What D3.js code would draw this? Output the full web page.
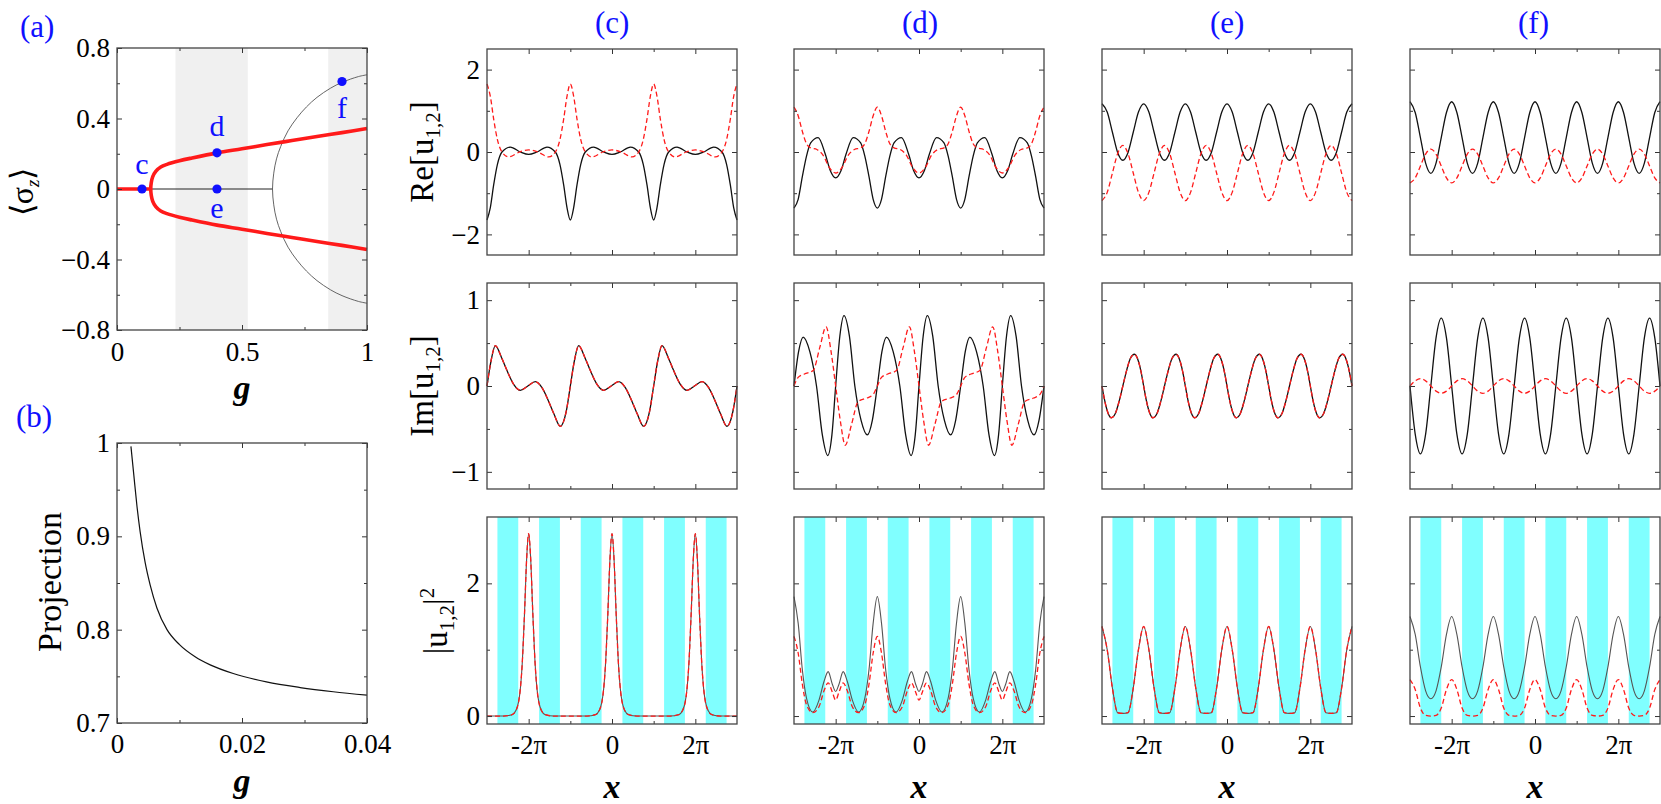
<!DOCTYPE html>
<html>
<head>
<meta charset="utf-8">
<script src="https://cdn.jsdelivr.net/npm/d3@7"></script>
<style>
  body { margin: 0; background: #fff; }
  svg { display: block; }
  svg text { font-family: "Liberation Serif", "Times New Roman", serif; }
</style>
</head>
<body>
<svg id="fig"></svg>
<script>
// ---------- panel (a): <sigma_z> vs g ----------
const bandsA = [[0.234, 0.523], [0.845, 1.0]];
const sigmaTrivial = [[0, 0], [0.622, 0]];
const sigmaLow = [[0, 0], [0.135, 0]];
const sigmaBranch = [[1, -0.343], [0.9, -0.32], [0.8, -0.298], [0.7, -0.275], [0.6, -0.252], [0.5, -0.228],
  [0.4, -0.205], [0.3, -0.176], [0.25, -0.16], [0.2, -0.14], [0.175, -0.125], [0.155, -0.1], [0.143, -0.07],
  [0.137, -0.035], [0.135, 0], [0.137, 0.035], [0.143, 0.07], [0.155, 0.1], [0.175, 0.125], [0.2, 0.14],
  [0.25, 0.16], [0.3, 0.176], [0.4, 0.205], [0.5, 0.228], [0.6, 0.252], [0.7, 0.275], [0.8, 0.298],
  [0.9, 0.32], [1, 0.343]];
const sigmaOuter = [[1, -0.648], [0.966, -0.638], [0.9, -0.605], [0.854, -0.572], [0.8, -0.52], [0.758, -0.466],
  [0.72, -0.404], [0.684, -0.33], [0.655, -0.242], [0.638, -0.171], [0.627, -0.09], [0.622, 0],
  [0.627, 0.09], [0.638, 0.171], [0.655, 0.242], [0.684, 0.33], [0.72, 0.404], [0.758, 0.466],
  [0.8, 0.52], [0.854, 0.572], [0.9, 0.605], [0.966, 0.638], [1, 0.648]];
const markerNames = ['c', 'd', 'e', 'f'];
const markerG = [0.1, 0.4, 0.4, 0.9];
const markerS = [0, 0.205, 0, 0.61];

// ---------- panel (b): projection vs g ----------
const projG = [0.00223, 0.0027, 0.0032, 0.0037, 0.0045, 0.0053, 0.0064, 0.008, 0.01, 0.0125,
  0.015, 0.0186, 0.0239, 0.0293, 0.0346, 0.04];
const projVal = [0.9964, 0.965, 0.932, 0.905, 0.872, 0.848, 0.823, 0.8, 0.784, 0.771,
  0.762, 0.753, 0.744, 0.738, 0.7335, 0.7298];

// ---------- panels (c)-(f): x in units of pi ----------
const xTickVals = [-2, 0, 2];
const xTickLabels = ['-2\u03c0', '0', '2\u03c0'];
const latticeBands = [[-2.75, -2.25], [-1.75, -1.25], [-0.75, -0.25], [0.25, 0.75], [1.25, 1.75], [2.25, 2.75]];
const GRID = [-3, -2.875, -2.75, -2.625, -2.5, -2.375, -2.25, -2.125, -2, -1.875, -1.75, -1.625, -1.5, -1.375, -1.25, -1.125,
  -1, -0.875, -0.75, -0.625, -0.5, -0.375, -0.25, -0.125, 0, 0.125, 0.25, 0.375, 0.5, 0.625, 0.75, 0.875,
  1, 1.125, 1.25, 1.375, 1.5, 1.625, 1.75, 1.875, 2, 2.125, 2.25, 2.375, 2.5, 2.625, 2.75, 2.875, 3];

// (c)
const cReBlack = [[-3,-1.65],[-2.92,-1.35],[-2.84,-0.8],[-2.75,-0.3],[-2.64,0],[-2.44,0.12],[-2.2,0],[-2,-0.06],[-1.8,0],[-1.56,0.12],[-1.36,0],[-1.25,-0.3],[-1.16,-0.8],[-1.08,-1.35],
  [-1,-1.65],[-0.92,-1.35],[-0.84,-0.8],[-0.75,-0.3],[-0.64,0],[-0.44,0.12],[-0.2,0],[0,-0.06],[0.2,0],[0.44,0.12],[0.64,0],[0.75,-0.3],[0.84,-0.8],[0.92,-1.35],
  [1,-1.65],[1.08,-1.35],[1.16,-0.8],[1.25,-0.3],[1.36,0],[1.56,0.12],[1.8,0],[2,-0.06],[2.2,0],[2.44,0.12],[2.64,0],[2.75,-0.3],[2.84,-0.8],[2.92,-1.35],[3,-1.65]];
const cReRed = [[-3,1.65],[-2.92,1.35],[-2.84,0.8],[-2.75,0.3],[-2.64,0],[-2.48,-0.12],[-2.22,0],[-2,0.05],[-1.78,0],[-1.52,-0.12],[-1.36,0],[-1.25,0.3],[-1.16,0.8],[-1.08,1.35],
  [-1,1.65],[-0.92,1.35],[-0.84,0.8],[-0.75,0.3],[-0.64,0],[-0.48,-0.12],[-0.22,0],[0,0.05],[0.22,0],[0.48,-0.12],[0.64,0],[0.75,0.3],[0.84,0.8],[0.92,1.35],
  [1,1.65],[1.08,1.35],[1.16,0.8],[1.25,0.3],[1.36,0],[1.52,-0.12],[1.78,0],[2,0.05],[2.22,0],[2.48,-0.12],[2.64,0],[2.75,0.3],[2.84,0.8],[2.92,1.35],[3,1.65]];
const cIm = [[-3,0],[-2.9,0.3],[-2.8,0.47],[-2.65,0.33],[-2.52,0.18],[-2.36,0.02],[-2.2,-0.05],[-2.02,0],[-1.84,0.05],[-1.68,-0.02],[-1.52,-0.18],[-1.39,-0.33],[-1.24,-0.47],[-1.1,-0.3],
  [-1,0],[-0.9,0.3],[-0.8,0.47],[-0.65,0.33],[-0.52,0.18],[-0.36,0.02],[-0.2,-0.05],[-0.02,0],[0.16,0.05],[0.32,-0.02],[0.48,-0.18],[0.61,-0.33],[0.76,-0.47],[0.9,-0.3],
  [1,0],[1.1,0.3],[1.2,0.47],[1.35,0.33],[1.48,0.18],[1.64,0.02],[1.8,-0.05],[1.98,0],[2.16,0.05],[2.32,-0.02],[2.48,-0.18],[2.61,-0.33],[2.76,-0.47],[2.9,-0.3],[3,0]];
const cAbs = [[-3,0],[-2.6,0],[-2.4,0.02],[-2.3,0.09],[-2.2,0.41],[-2.15,0.84],[-2.1,1.54],[-2.05,2.35],[-2,2.75],[-1.95,2.35],[-1.9,1.54],[-1.85,0.84],[-1.8,0.41],[-1.7,0.09],[-1.6,0.02],[-1.4,0],
  [-0.6,0],[-0.4,0.02],[-0.3,0.09],[-0.2,0.41],[-0.15,0.84],[-0.1,1.54],[-0.05,2.35],[0,2.75],[0.05,2.35],[0.1,1.54],[0.15,0.84],[0.2,0.41],[0.3,0.09],[0.4,0.02],[0.6,0],
  [1.4,0],[1.6,0.02],[1.7,0.09],[1.8,0.41],[1.85,0.84],[1.9,1.54],[1.95,2.35],[2,2.75],[2.05,2.35],[2.1,1.54],[2.15,0.84],[2.2,0.41],[2.3,0.09],[2.4,0.02],[2.6,0],[3,0]];

// (d)
const dReBlack = [[-3,-1.36],[-2.9,-1.15],[-2.8,-0.6],[-2.7,-0.1],[-2.6,0.22],[-2.42,0.35],[-2.25,-0.05],[-2.13,-0.45],[-2,-0.63],[-1.87,-0.45],[-1.75,-0.05],[-1.58,0.35],[-1.4,0.22],[-1.3,-0.1],[-1.2,-0.6],[-1.1,-1.15],
  [-1,-1.36],[-0.9,-1.15],[-0.8,-0.6],[-0.7,-0.1],[-0.6,0.22],[-0.42,0.35],[-0.25,-0.05],[-0.13,-0.45],[0,-0.63],[0.13,-0.45],[0.25,-0.05],[0.42,0.35],[0.6,0.22],[0.7,-0.1],[0.8,-0.6],[0.9,-1.15],
  [1,-1.36],[1.1,-1.15],[1.2,-0.6],[1.3,-0.1],[1.4,0.22],[1.58,0.35],[1.75,-0.05],[1.87,-0.45],[2,-0.63],[2.13,-0.45],[2.25,-0.05],[2.42,0.35],[2.6,0.22],[2.7,-0.1],[2.8,-0.6],[2.9,-1.15],[3,-1.36]];
const dReRed = [[-3,1.09],[-2.9,0.88],[-2.8,0.5],[-2.7,0.2],[-2.6,0.1],[-2.45,0.06],[-2.3,-0.08],[-2.15,-0.38],[-2,-0.51],[-1.85,-0.38],[-1.7,-0.08],[-1.55,0.06],[-1.4,0.1],[-1.3,0.2],[-1.2,0.5],[-1.1,0.88],
  [-1,1.09],[-0.9,0.88],[-0.8,0.5],[-0.7,0.2],[-0.6,0.1],[-0.45,0.06],[-0.3,-0.08],[-0.15,-0.38],[0,-0.51],[0.15,-0.38],[0.3,-0.08],[0.45,0.06],[0.6,0.1],[0.7,0.2],[0.8,0.5],[0.9,0.88],
  [1,1.09],[1.1,0.88],[1.2,0.5],[1.3,0.2],[1.4,0.1],[1.55,0.06],[1.7,-0.08],[1.85,-0.38],[2,-0.51],[2.15,-0.38],[2.3,-0.08],[2.45,0.06],[2.6,0.1],[2.7,0.2],[2.8,0.5],[2.9,0.88],[3,1.09]];
const dImBlack = [[-3,0],[-2.89,0.4],[-2.78,0.57],[-2.62,0.4],[-2.46,0],[-2.32,-0.57],[-2.19,-0.81],[-2.09,-0.57],[-2,0],[-1.9,0.58],[-1.8,0.82],[-1.67,0.58],[-1.54,0],[-1.39,-0.4],[-1.24,-0.57],[-1.12,-0.4],
  [-1,0],[-0.89,0.4],[-0.78,0.57],[-0.62,0.4],[-0.46,0],[-0.32,-0.57],[-0.19,-0.81],[-0.09,-0.57],[0,0],[0.1,0.58],[0.2,0.82],[0.33,0.58],[0.46,0],[0.61,-0.4],[0.76,-0.57],[0.88,-0.4],
  [1,0],[1.11,0.4],[1.22,0.57],[1.38,0.4],[1.54,0],[1.68,-0.57],[1.81,-0.81],[1.91,-0.57],[2,0],[2.1,0.58],[2.2,0.82],[2.33,0.58],[2.46,0],[2.61,-0.4],[2.76,-0.57],[2.88,-0.4],[3,0]];
const dImRed = [[-3,0],[-2.9,0.1],[-2.75,0.14],[-2.54,0.18],[-2.38,0.45],[-2.23,0.69],[-2.11,0.4],[-2,0],[-1.89,-0.4],[-1.77,-0.69],[-1.62,-0.45],[-1.46,-0.18],[-1.25,-0.14],[-1.1,-0.1],
  [-1,0],[-0.9,0.1],[-0.75,0.14],[-0.54,0.18],[-0.38,0.45],[-0.23,0.69],[-0.11,0.4],[0,0],[0.11,-0.4],[0.23,-0.69],[0.38,-0.45],[0.54,-0.18],[0.75,-0.14],[0.9,-0.1],
  [1,0],[1.1,0.1],[1.25,0.14],[1.46,0.18],[1.62,0.45],[1.77,0.69],[1.89,0.4],[2,0],[2.11,-0.4],[2.23,-0.69],[2.38,-0.45],[2.54,-0.18],[2.75,-0.14],[2.9,-0.1],[3,0]];
const dAbsBlack = [[-3,1.8],[-2.9,1.4],[-2.8,0.7],[-2.7,0.27],[-2.55,0.06],[-2.4,0.24],[-2.28,0.52],[-2.18,0.67],[-2.08,0.48],[-2,0.37],[-1.92,0.48],[-1.82,0.67],[-1.72,0.52],[-1.6,0.24],[-1.45,0.06],[-1.3,0.27],[-1.2,0.7],[-1.1,1.4],
  [-1,1.8],[-0.9,1.4],[-0.8,0.7],[-0.7,0.27],[-0.55,0.06],[-0.4,0.24],[-0.28,0.52],[-0.18,0.67],[-0.08,0.48],[0,0.37],[0.08,0.48],[0.18,0.67],[0.28,0.52],[0.4,0.24],[0.55,0.06],[0.7,0.27],[0.8,0.7],[0.9,1.4],
  [1,1.8],[1.1,1.4],[1.2,0.7],[1.3,0.27],[1.45,0.06],[1.6,0.24],[1.72,0.52],[1.82,0.67],[1.92,0.48],[2,0.37],[2.08,0.48],[2.18,0.67],[2.28,0.52],[2.4,0.24],[2.55,0.06],[2.7,0.27],[2.8,0.7],[2.9,1.4],[3,1.8]];
const dAbsRed = [[-3,1.2],[-2.9,0.95],[-2.8,0.48],[-2.7,0.17],[-2.55,0.05],[-2.4,0.14],[-2.28,0.38],[-2.18,0.5],[-2.08,0.36],[-2,0.24],[-1.92,0.36],[-1.82,0.5],[-1.72,0.38],[-1.6,0.14],[-1.45,0.05],[-1.3,0.17],[-1.2,0.48],[-1.1,0.95],
  [-1,1.2],[-0.9,0.95],[-0.8,0.48],[-0.7,0.17],[-0.55,0.05],[-0.4,0.14],[-0.28,0.38],[-0.18,0.5],[-0.08,0.36],[0,0.24],[0.08,0.36],[0.18,0.5],[0.28,0.38],[0.4,0.14],[0.55,0.05],[0.7,0.17],[0.8,0.48],[0.9,0.95],
  [1,1.2],[1.1,0.95],[1.2,0.48],[1.3,0.17],[1.45,0.05],[1.6,0.14],[1.72,0.38],[1.82,0.5],[1.92,0.36],[2,0.24],[2.08,0.36],[2.18,0.5],[2.28,0.38],[2.4,0.14],[2.55,0.05],[2.7,0.17],[2.8,0.48],[2.9,0.95],[3,1.2]];

// (e) values on GRID
const eReBlack = [1.17,0.97,0.48,-0.01,-0.2,-0.01,0.48,0.97, 1.17,0.97,0.48,-0.01,-0.2,-0.01,0.48,0.97,
  1.17,0.97,0.48,-0.01,-0.2,-0.01,0.48,0.97, 1.17,0.97,0.48,-0.01,-0.2,-0.01,0.48,0.97,
  1.17,0.97,0.48,-0.01,-0.2,-0.01,0.48,0.97, 1.17,0.97,0.48,-0.01,-0.2,-0.01,0.48,0.97, 1.17];
const eReRed = [-1.18,-0.98,-0.51,-0.04,0.16,-0.04,-0.51,-0.98, -1.18,-0.98,-0.51,-0.04,0.16,-0.04,-0.51,-0.98,
  -1.18,-0.98,-0.51,-0.04,0.16,-0.04,-0.51,-0.98, -1.18,-0.98,-0.51,-0.04,0.16,-0.04,-0.51,-0.98,
  -1.18,-0.98,-0.51,-0.04,0.16,-0.04,-0.51,-0.98, -1.18,-0.98,-0.51,-0.04,0.16,-0.04,-0.51,-0.98, -1.18];
const eIm = [[-3,0],[-2.94,-0.16],[-2.88,-0.28],[-2.78,-0.37],[-2.68,-0.32],[-2.59,-0.18],[-2.5,0],[-2.41,0.18],[-2.32,0.32],[-2.22,0.37],[-2.12,0.28],[-2.06,0.16],
  [-2,0],[-1.94,-0.16],[-1.88,-0.28],[-1.78,-0.37],[-1.68,-0.32],[-1.59,-0.18],[-1.5,0],[-1.41,0.18],[-1.32,0.32],[-1.22,0.37],[-1.12,0.28],[-1.06,0.16],
  [-1,0],[-0.94,-0.16],[-0.88,-0.28],[-0.78,-0.37],[-0.68,-0.32],[-0.59,-0.18],[-0.5,0],[-0.41,0.18],[-0.32,0.32],[-0.22,0.37],[-0.12,0.28],[-0.06,0.16],
  [0,0],[0.06,-0.16],[0.12,-0.28],[0.22,-0.37],[0.32,-0.32],[0.41,-0.18],[0.5,0],[0.59,0.18],[0.68,0.32],[0.78,0.37],[0.88,0.28],[0.94,0.16],
  [1,0],[1.06,-0.16],[1.12,-0.28],[1.22,-0.37],[1.32,-0.32],[1.41,-0.18],[1.5,0],[1.59,0.18],[1.68,0.32],[1.78,0.37],[1.88,0.28],[1.94,0.16],
  [2,0],[2.06,-0.16],[2.12,-0.28],[2.22,-0.37],[2.32,-0.32],[2.41,-0.18],[2.5,0],[2.59,0.18],[2.68,0.32],[2.78,0.37],[2.88,0.28],[2.94,0.16],[3,0]];
const eAbs = [1.35,1.0,0.42,0.05,0.04,0.05,0.42,1.0, 1.35,1.0,0.42,0.05,0.04,0.05,0.42,1.0,
  1.35,1.0,0.42,0.05,0.04,0.05,0.42,1.0, 1.35,1.0,0.42,0.05,0.04,0.05,0.42,1.0,
  1.35,1.0,0.42,0.05,0.04,0.05,0.42,1.0, 1.35,1.0,0.42,0.05,0.04,0.05,0.42,1.0, 1.35];

// (f) values on GRID
const fReBlack = [1.22,0.96,0.35,-0.27,-0.52,-0.27,0.35,0.96, 1.22,0.96,0.35,-0.27,-0.52,-0.27,0.35,0.96,
  1.22,0.96,0.35,-0.27,-0.52,-0.27,0.35,0.96, 1.22,0.96,0.35,-0.27,-0.52,-0.27,0.35,0.96,
  1.22,0.96,0.35,-0.27,-0.52,-0.27,0.35,0.96, 1.22,0.96,0.35,-0.27,-0.52,-0.27,0.35,0.96, 1.22];
const fReRed = [-0.75,-0.63,-0.34,-0.05,0.07,-0.05,-0.34,-0.63, -0.75,-0.63,-0.34,-0.05,0.07,-0.05,-0.34,-0.63,
  -0.75,-0.63,-0.34,-0.05,0.07,-0.05,-0.34,-0.63, -0.75,-0.63,-0.34,-0.05,0.07,-0.05,-0.34,-0.63,
  -0.75,-0.63,-0.34,-0.05,0.07,-0.05,-0.34,-0.63, -0.75,-0.63,-0.34,-0.05,0.07,-0.05,-0.34,-0.63, -0.75];
const fImBlack = [0,-0.56,-0.79,-0.56,0,0.56,0.79,0.56, 0,-0.56,-0.79,-0.56,0,0.56,0.79,0.56,
  0,-0.56,-0.79,-0.56,0,0.56,0.79,0.56, 0,-0.56,-0.79,-0.56,0,0.56,0.79,0.56,
  0,-0.56,-0.79,-0.56,0,0.56,0.79,0.56, 0,-0.56,-0.79,-0.56,0,0.56,0.79,0.56, 0];
const fImRed = [0,0.06,0.085,0.06,0,-0.06,-0.085,-0.06, 0,0.06,0.085,0.06,0,-0.06,-0.085,-0.06,
  0,0.06,0.085,0.06,0,-0.06,-0.085,-0.06, 0,0.06,0.085,0.06,0,-0.06,-0.085,-0.06,
  0,0.06,0.085,0.06,0,-0.06,-0.085,-0.06, 0,0.06,0.085,0.06,0,-0.06,-0.085,-0.06, 0];
const fAbsBlack = [1.5,1.23,0.74,0.38,0.26,0.38,0.74,1.23, 1.5,1.23,0.74,0.38,0.26,0.38,0.74,1.23,
  1.5,1.23,0.74,0.38,0.26,0.38,0.74,1.23, 1.5,1.23,0.74,0.38,0.26,0.38,0.74,1.23,
  1.5,1.23,0.74,0.38,0.26,0.38,0.74,1.23, 1.5,1.23,0.74,0.38,0.26,0.38,0.74,1.23, 1.5];
const fAbsRed = [0.55,0.4,0.12,0.01,0,0.01,0.12,0.4, 0.55,0.4,0.12,0.01,0,0.01,0.12,0.4,
  0.55,0.4,0.12,0.01,0,0.01,0.12,0.4, 0.55,0.4,0.12,0.01,0,0.01,0.12,0.4,
  0.55,0.4,0.12,0.01,0,0.01,0.12,0.4, 0.55,0.4,0.12,0.01,0,0.01,0.12,0.4, 0.55];

// ---------- drawing ----------
const FONT = '"Liberation Serif","Times New Roman",serif';
const BLUE = '#1010ff';
const RED = '#ff1a1a';
const svg = d3.select('#fig').attr('width', 1661).attr('height', 804)
  .attr('font-family', FONT);

const onGrid = vals => GRID.map((x, i) => [x, vals[i]]);
const minus = v => String(v).replace('-', '\u2212');

function ticks(g, axis, pos, values, size, fmt, pad) {
  const t = g.append('g').attr('transform', pos)
    .call(axis.tickValues(values).tickSize(-size).tickPadding(pad || 0).tickFormat(fmt || (() => '')));
  t.attr('font-family', null).attr('font-size', null);
  t.select('.domain').remove();
  t.selectAll('line').attr('stroke', '#333').attr('stroke-width', 1);
  t.selectAll('text').attr('font-size', 27).attr('fill', '#000');
}

function frame(g, x, y, o) {
  const [xl, xr] = x.range(), [yb, yt] = y.range();
  ticks(g, d3.axisBottom(x), `translate(0,${yb})`, o.xMajor, 5, o.xFmt, o.xPad);
  ticks(g, d3.axisTop(x), `translate(0,${yt})`, o.xMajor, 5);
  ticks(g, d3.axisBottom(x), `translate(0,${yb})`, o.xMinor, 3);
  ticks(g, d3.axisTop(x), `translate(0,${yt})`, o.xMinor, 3);
  ticks(g, d3.axisLeft(y), `translate(${xl},0)`, o.yMajor, 5, o.yFmt, 7);
  ticks(g, d3.axisRight(y), `translate(${xr},0)`, o.yMajor, 5);
  ticks(g, d3.axisLeft(y), `translate(${xl},0)`, o.yMinor, 3);
  ticks(g, d3.axisRight(y), `translate(${xr},0)`, o.yMinor, 3);
  g.append('rect').attr('x', xl).attr('y', yt).attr('width', xr - xl).attr('height', yb - yt)
    .attr('fill', 'none').attr('stroke', '#444').attr('stroke-width', 1.3);
}

function path(g, data, x, y, curve, stroke, width, dash) {
  g.append('path').datum(data)
    .attr('d', d3.line().x(d => x(d[0])).y(d => y(d[1])).curve(curve))
    .attr('fill', 'none').attr('stroke', stroke).attr('stroke-width', width)
    .attr('stroke-dasharray', dash || null);
}

function blueLabel(txt, x, y, size) {
  svg.append('text').attr('x', x).attr('y', y).attr('font-size', size || 31)
    .attr('fill', BLUE).text(txt);
}

function boldItalic(txt, x, y) {
  svg.append('text').attr('x', x).attr('y', y).attr('text-anchor', 'middle')
    .attr('font-size', 34).attr('font-weight', 'bold').attr('font-style', 'italic').text(txt);
}

// panel (a)
{
  const g = svg.append('g');
  const x = d3.scaleLinear().domain([0, 1]).range([117, 367]);
  const y = d3.scaleLinear().domain([-0.8, 0.8]).range([330, 48]);
  g.selectAll('rect.band').data(bandsA).join('rect').attr('class', 'band')
    .attr('x', d => x(d[0])).attr('width', d => x(d[1]) - x(d[0]))
    .attr('y', y(0.8)).attr('height', y(-0.8) - y(0.8)).attr('fill', '#f0f0f0');
  path(g, sigmaTrivial, x, y, d3.curveLinear, '#222', 1);
  path(g, sigmaOuter, x, y, d3.curveCatmullRom.alpha(0.5), '#555', 0.9);
  path(g, sigmaLow, x, y, d3.curveLinear, RED, 3.6);
  path(g, sigmaBranch, x, y, d3.curveCatmullRom.alpha(0.5), RED, 3.6);
  frame(g, x, y, {
    xMajor: [0, 0.5, 1], xMinor: [0.25, 0.75], xFmt: d => String(d), xPad: 12,
    yMajor: [-0.8, -0.4, 0, 0.4, 0.8], yMinor: [-0.6, -0.2, 0.2, 0.6], yFmt: minus
  });
  const labelDy = { c: -15, d: -17, e: 29, f: 37 };
  markerNames.forEach((n, i) => {
    g.append('circle').attr('cx', x(markerG[i])).attr('cy', y(markerS[i])).attr('r', 4.6).attr('fill', BLUE);
    g.append('text').attr('x', x(markerG[i])).attr('y', y(markerS[i]) + labelDy[n])
      .attr('text-anchor', 'middle').attr('font-size', 30).attr('fill', BLUE).text(n);
  });
  const yl = svg.append('text').attr('transform', 'translate(33,192) rotate(-90)')
    .attr('text-anchor', 'middle').attr('font-size', 32);
  yl.append('tspan').text('\u27e8\u03c3');
  yl.append('tspan').attr('font-size', 19).attr('font-style', 'italic').attr('dy', 6).text('z');
  yl.append('tspan').attr('dy', -6).text('\u27e9');
  boldItalic('g', 242, 399);
  blueLabel('(a)', 20, 37);
}

// panel (b)
{
  const g = svg.append('g');
  const x = d3.scaleLinear().domain([0, 0.04]).range([117, 367]);
  const y = d3.scaleLinear().domain([0.7, 1]).range([723, 443]);
  path(g, projG.map((v, i) => [v, projVal[i]]), x, y, d3.curveMonotoneX, '#111', 1.2);
  frame(g, x, y, {
    xMajor: [0, 0.02, 0.04], xMinor: [0.01, 0.03], xFmt: d => String(d), xPad: 11,
    yMajor: [0.7, 0.8, 0.9, 1], yMinor: [0.75, 0.85, 0.95], yFmt: d => String(d)
  });
  svg.append('text').attr('transform', 'translate(61,582) rotate(-90)')
    .attr('text-anchor', 'middle').attr('font-size', 34).text('Projection');
  boldItalic('g', 242, 792);
  blueLabel('(b)', 16, 427);
}

// panels (c)-(f)
const columns = [
  { title: '(c)', left: 487, re: [cReBlack, cReRed], im: [cIm, cIm], abs: [cAbs, cAbs] },
  { title: '(d)', left: 794, re: [dReBlack, dReRed], im: [dImBlack, dImRed], abs: [dAbsBlack, dAbsRed] },
  { title: '(e)', left: 1102, re: [onGrid(eReBlack), onGrid(eReRed)], im: [eIm, eIm], abs: [onGrid(eAbs), onGrid(eAbs)] },
  { title: '(f)', left: 1410, re: [onGrid(fReBlack), onGrid(fReRed)], im: [onGrid(fImBlack), onGrid(fImRed)], abs: [onGrid(fAbsBlack), onGrid(fAbsRed)] }
];
const rows = [
  { key: 're', top: 49, bottom: 255, domain: [-2.5, 2.5], major: [-2, 0, 2], minor: [-1, 1],
    title: ['Re[u', '1,2', ']', null], tx: 433, ty: 152 },
  { key: 'im', top: 283, bottom: 489, domain: [-1.2, 1.2], major: [-1, 0, 1], minor: [-0.5, 0.5],
    title: ['Im[u', '1,2', ']', null], tx: 433, ty: 386 },
  { key: 'abs', top: 517, bottom: 724, domain: [-0.12, 3], major: [0, 2], minor: [1],
    title: ['|u', '1,2', '|', '2'], tx: 447, ty: 621 }
];
const W = 250;

columns.forEach((col, ci) => {
  const x = d3.scaleLinear().domain([-3, 3]).range([col.left, col.left + W]);
  rows.forEach(row => {
    const g = svg.append('g');
    const y = d3.scaleLinear().domain(row.domain).range([row.bottom, row.top]);
    if (row.key === 'abs') {
      g.selectAll('rect.lat').data(latticeBands).join('rect').attr('class', 'lat')
        .attr('x', d => x(d[0])).attr('width', d => x(d[1]) - x(d[0]))
        .attr('y', row.top).attr('height', row.bottom - row.top).attr('fill', '#80ffff');
    }
    const [blk, red] = col[row.key];
    path(g, blk, x, y, d3.curveMonotoneX, row.key === 'abs' ? '#555' : '#111', row.key === 'abs' ? 1.1 : 1.3);
    path(g, red, x, y, d3.curveMonotoneX, RED, 1.3, '5,3');
    frame(g, x, y, {
      xMajor: xTickVals, xMinor: [-1, 1], xPad: 11,
      xFmt: row.key === 'abs' ? (d => xTickLabels[xTickVals.indexOf(d)]) : null,
      yMajor: row.major, yMinor: row.minor, yFmt: ci === 0 ? minus : null
    });
  });
  blueLabel(col.title, col.left + W / 2 - 17, 33);
  boldItalic('x', col.left + W / 2, 798);
});

// row titles
rows.forEach(row => {
  const t = svg.append('text').attr('transform', `translate(${row.tx},${row.ty}) rotate(-90)`)
    .attr('text-anchor', 'middle').attr('font-size', 33);
  t.append('tspan').text(row.title[0]);
  t.append('tspan').attr('font-size', 21).attr('dy', 7).text(row.title[1]);
  t.append('tspan').attr('dy', -7).text(row.title[2]);
  if (row.title[3]) t.append('tspan').attr('font-size', 21).attr('dy', -13).text(row.title[3]);
});
</script>
</body>
</html>
